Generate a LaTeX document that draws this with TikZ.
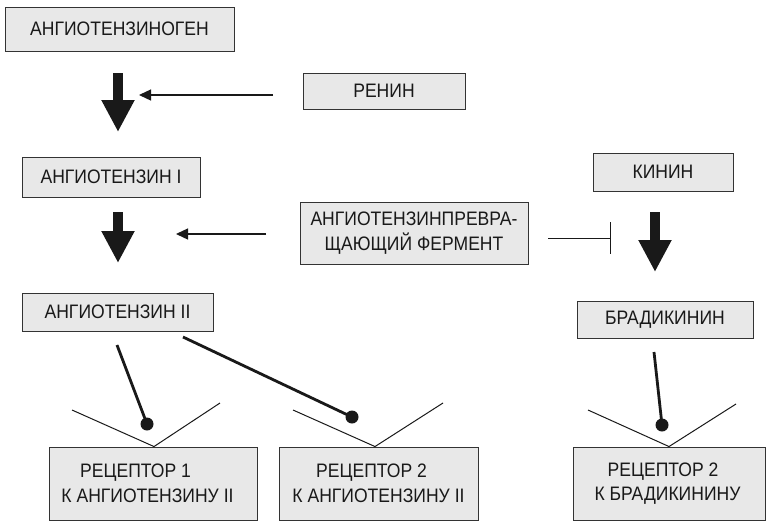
\documentclass[tikz,border=0pt]{standalone}
\usepackage{fontspec}
\setmainfont[FakeStretch=0.9]{Liberation Sans}
\usetikzlibrary{arrows.meta,calc}
\begin{document}
\begin{tikzpicture}[x=1pt,y=-1pt,
  box/.style={draw=black!80, line width=0.9pt, fill=black!9, inner sep=0pt,
    font=\fontsize{19.5}{24.5}\selectfont, text=black!90, align=center},
  bigarrow/.style={line width=10pt, black!90, -{Triangle[width=31pt,length=32pt]}},
  thinarrow/.style={line width=1.3pt, black!90, -{Triangle[width=11pt,length=12pt]}},
  inhib/.style={line width=1pt, black!90, -{Bar[width=32pt]}},
  stem/.style={line width=2.8pt, black!90},
  vee/.style={line width=1pt, black!90},
  dot/.style={circle, fill=black!90, inner sep=0pt, minimum size=13pt}
]
\useasboundingbox (0,0) rectangle (766,522);

% boxes
\node[box, minimum width=229pt, minimum height=44pt] (agen) at (119.5,29) {АНГИОТЕНЗИНОГЕН};
\node[box, minimum width=162pt, minimum height=36pt] (renin) at (384,91) {РЕНИН};
\node[box, minimum width=178pt, minimum height=40pt] (a1) at (111,177) {АНГИОТЕНЗИН I};
\node[box, minimum width=228pt, minimum height=62pt] (ace) at (414,233) {АНГИОТЕНЗИНПРЕВРА-\\ЩАЮЩИЙ ФЕРМЕНТ};
\node[box, minimum width=140pt, minimum height=38pt] (kinin) at (663,172) {КИНИН};
\node[box, minimum width=191pt, minimum height=38pt] (a2) at (117.5,312) {АНГИОТЕНЗИН II};
\node[box, minimum width=176pt, minimum height=37pt] (brad) at (665,319.5) {БРАДИКИНИН};
\node[box, minimum width=208pt, minimum height=73pt] (r1) at (153,483.5) {РЕЦЕПТОР 1\kern35pt\\К АНГИОТЕНЗИНУ II\kern11pt};
\node[box, minimum width=199pt, minimum height=73pt] (r2) at (378.5,483.5) {РЕЦЕПТОР 2\kern14pt\\К АНГИОТЕНЗИНУ II};
\node[box, minimum width=192pt, minimum height=73pt] (r3) at (669,483.5) {РЕЦЕПТОР 2\kern12pt\\К БРАДИКИНИНУ\kern3pt};

% thick conversion arrows
\coordinate (b1s) at (118,73);  \coordinate (b1e) at (118,132);
\coordinate (b2s) at (118,212); \coordinate (b2e) at (118,263);
\coordinate (b3s) at (655,212); \coordinate (b3e) at (655,272);
\draw[bigarrow] (b1s) -- (b1e);
\draw[bigarrow] (b2s) -- (b2e);
\draw[bigarrow] (b3s) -- (b3e);

% enzyme arrows
\coordinate (t1s) at (273,95);  \coordinate (t1e) at (139,95);
\coordinate (t2s) at (266,234); \coordinate (t2e) at (176,234);
\draw[thinarrow] (t1s) -- (t1e);
\draw[thinarrow] (t2s) -- (t2e);
\coordinate (i1s) at (548,238); \coordinate (i1e) at (611,238);
\draw[inhib] (i1s) -- (i1e);

% receptor sites
\draw[vee] (72,410) -- ([xshift=1pt]r1.north) -- (220,403);
\draw[vee] (293,410) -- ([xshift=-3.5pt]r2.north) -- (443,403);
\draw[vee] (588,410) -- (r3.north) -- (736,404);

% ligand stems
\node[dot] (d1) at (147,424) {};
\node[dot] (d2) at (352,417) {};
\node[dot] (d3) at (662,425) {};
\coordinate (s1) at (117,345);
\coordinate (s2) at (183,337);
\coordinate (s3) at (654,352);
\draw[stem] (s1) -- (d1.center);
\draw[stem] (s2) -- (d2.center);
\draw[stem] (s3) -- (d3.center);
\end{tikzpicture}
\end{document}
